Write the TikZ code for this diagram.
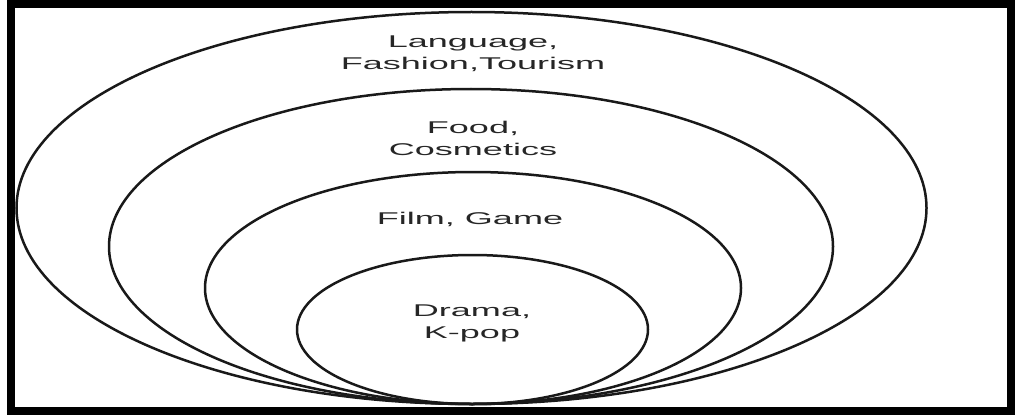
\documentclass[tikz,border=0pt]{standalone}
\usepackage{fontspec}
\setmainfont{Liberation Sans}
\usepackage{tikz}
\usetikzlibrary{calc,positioning}

\tikzset{
  ring/.style={draw=black!90, line width=2.5pt},
  ringlabel/.style={align=center, inner sep=0pt, xscale=2.12,
    font=\fontsize{17}{22}\selectfont, text=black!85}
}

\begin{document}
\begin{tikzpicture}[x=1pt,y=-1pt]
            \useasboundingbox (0,0) rectangle (1016,417);
            % Frame round the picture
            \draw [line width=8pt] (11,4) rectangle (1011,411);
            % Draw the nested rings, all touching at the bottom
            \draw [ring] (471.5,208) ellipse [x radius=455pt, y radius=196pt];
            \draw [ring] (471,246.5) ellipse [x radius=362pt, y radius=157.5pt];
            \draw [ring] (473,288) ellipse [x radius=268pt, y radius=116pt];
            \draw [ring] (472.5,329.5) ellipse [x radius=175.5pt, y radius=74.5pt];
            % Label the rings
            \node [ringlabel] (lang) at (473,54) {Language,\\Fashion,Tourism};
            \node [ringlabel] (food) at (473,138) {Food,\\Cosmetics};
            \node [ringlabel] (film) at (470,219) {Film, Game};
            \node [ringlabel] (drama) at (472,323) {Drama,\\K-pop};
          \end{tikzpicture}
\end{document}
